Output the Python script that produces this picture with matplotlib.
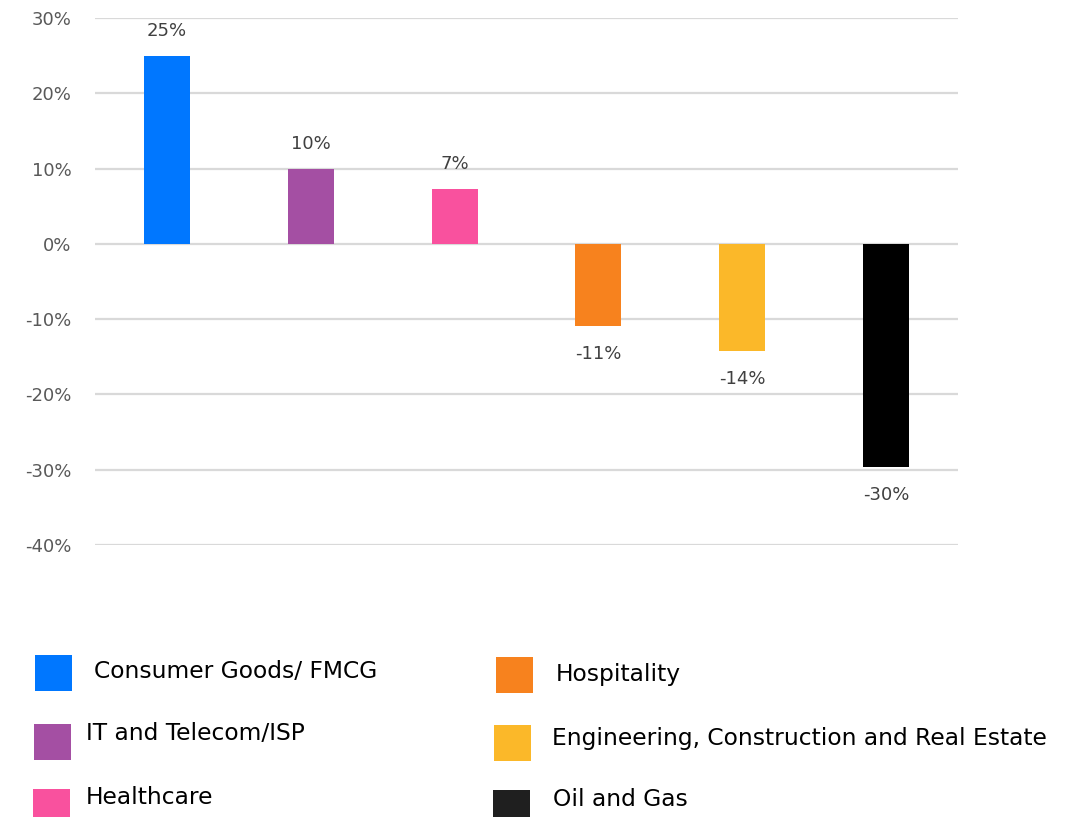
import matplotlib
matplotlib.use("Agg")
import matplotlib.pyplot as plt
from matplotlib.patches import Rectangle
from matplotlib.ticker import FuncFormatter

plt.rcParams["font.family"] = ["DejaVu Sans"]

categories = ["Consumer Goods/ FMCG", "IT and Telecom/ISP", "Healthcare",
              "Hospitality", "Engineering, Construction and Real Estate", "Oil and Gas"]
values = [25.0, 10.0, 7.3, -10.9, -14.2, -29.7]
bar_colors = ["#0077ff", "#a44fa3", "#f9519e", "#f7821e", "#fbb829", "#000000"]
legend_colors = ["#0077ff", "#a44fa3", "#f9519e", "#f7821e", "#fbb829", "#1f1f1f"]
yticks = [-40, -30, -20, -10, 0, 10, 20, 30]

W, H = 1073, 817
fig = plt.figure(figsize=(W / 100, H / 100), dpi=100)
ax = fig.add_axes([95 / W, 1 - 545 / H, (958 - 95) / W, (545 - 18) / H])

x = list(range(len(categories)))
ax.bar(x, values, width=0.32, color=bar_colors, zorder=3)
for xi, v in zip(x, values):
    up = v >= 0
    ax.annotate(f"{v:.0f}%", (xi, v), xytext=(0, 18 if up else -20),
                textcoords="offset points", ha="center", va="center",
                fontsize=13, color="#404040")

ax.set_xlim(-0.5, len(categories) - 0.5)
ax.set_ylim(-40, 30)
ax.set_yticks(yticks)
ax.yaxis.set_major_formatter(FuncFormatter(lambda v, p: f"{int(round(v))}%"))
ax.tick_params(axis="y", length=0, pad=17, labelsize=13, labelcolor="#595959")
ax.set_xticks([])
ax.grid(axis="y", color="#d9d9d9", lw=1.6, zorder=0)
for s in ax.spines.values():
    s.set_visible(False)

# manual legend, two columns of three
sq_left = [(35, 655), (34, 724), (33, 789), (496, 657), (494, 725), (493, 790)]
txt_pos = [(94, 672), (86, 733), (86, 797), (556, 675), (552, 738), (553, 800)]
for lab, col, (sx, sy), (tx, ty) in zip(categories, legend_colors, sq_left, txt_pos):
    fig.add_artist(Rectangle((sx / W, 1 - (sy + 36) / H), 37 / W, 36 / H,
                             transform=fig.transFigure, facecolor=col, edgecolor="none"))
    fig.text(tx / W, 1 - ty / H, lab, ha="left", va="center", fontsize=16.8, color="black")

fig.savefig("out.png", dpi=100)
